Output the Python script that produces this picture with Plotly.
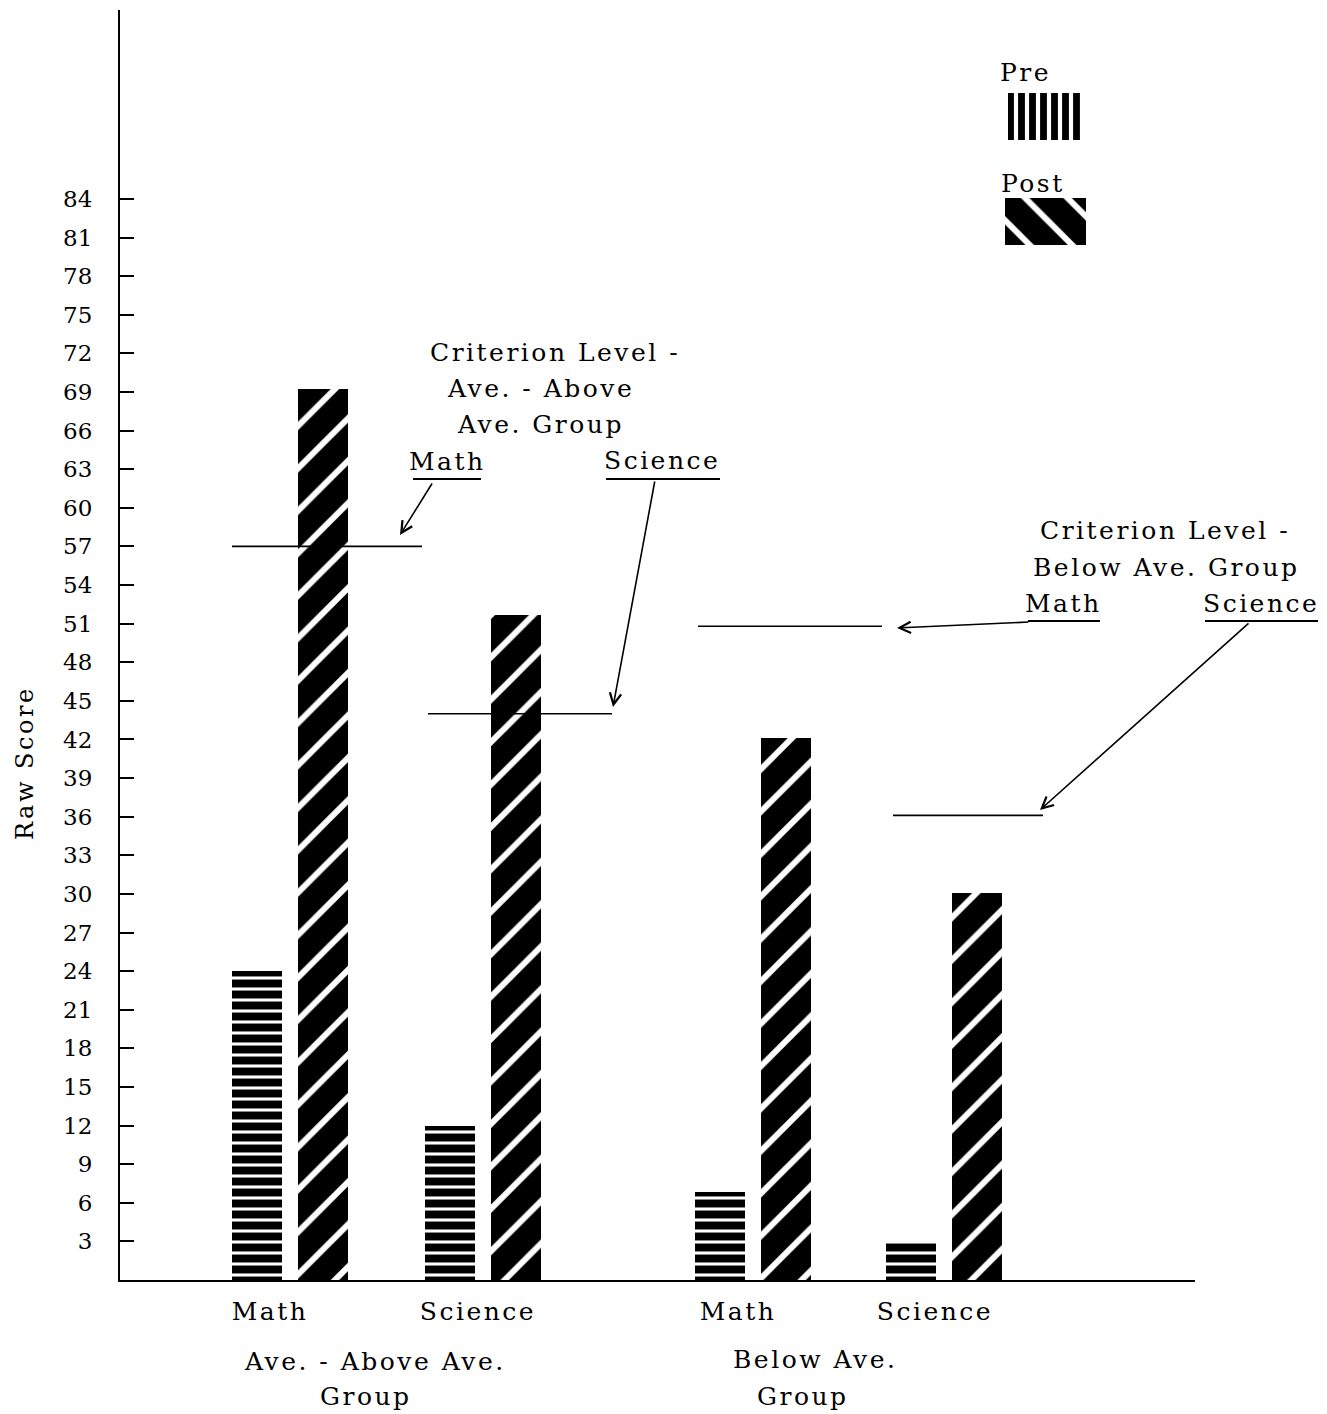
import plotly.graph_objects as go

# ---------------- data ----------------
subjects = ["Math", "Science", "Math", "Science"]
groups = ["Ave. - Above Ave.", "Below Ave."]
pre_scores = [24.0, 12.0, 6.8, 3.0]
post_scores = [69.2, 51.7, 42.1, 30.1]
criterion = [57.0, 44.0, 50.8, 36.1]
y_ticks = list(range(3, 85, 3))

# ---------------- layout helpers ----------------
W, H = 1327, 1414
BODY = 8                                   # browser default body margin
L, R, T, B = 120, 1195, 10, 1280          # plot area in reference pixels
YMAX = (B - T) / 12.87                     # axis top value


def px(x):  # reference pixel x -> paper
    return (x - L) / (R - L)


def py(y):  # reference pixel y -> paper
    return (B - y) / (B - T)


slot_centers = [170, 363, 633, 824]
pre_x = [c - 33 for c in slot_centers]
post_x = [c + 33 for c in slot_centers]
label_x = [150, 358, 618, 815]
BAR_W = 50

FONT = "DejaVu Serif"
FS = 25
LS = "letter-spacing:2.5px"


def spaced(s):
    return f"<span style='{LS}'>{s}</span>"


fig = go.Figure()

fig.add_trace(go.Bar(
    x=pre_x, y=pre_scores, width=BAR_W, name="Pre",
    marker=dict(color="black", line=dict(width=0),
                pattern=dict(shape="-", size=11, solidity=0.72,
                             fgcolor="black", bgcolor="white", fillmode="replace")),
    showlegend=False,
))
fig.add_trace(go.Bar(
    x=post_x, y=post_scores, width=BAR_W, name="Post",
    marker=dict(color="black", line=dict(width=0),
                pattern=dict(shape="/", size=30, solidity=0.2,
                             fgcolor="white", bgcolor="black", fillmode="replace")),
    showlegend=False,
))

# legend swatches on an overlay axis
fig.add_trace(go.Bar(
    x=[0.5], y=[0.31], base=[0.69], width=[0.93], xaxis="x2", yaxis="y2",
    marker=dict(color="black", line=dict(width=0),
                pattern=dict(shape="|", size=11, solidity=0.62,
                             fgcolor="black", bgcolor="white", fillmode="replace")),
    showlegend=False, hoverinfo="skip",
))
fig.add_trace(go.Bar(
    x=[0.5], y=[0.31], base=[0.0], width=[1.0], xaxis="x2", yaxis="y2",
    marker=dict(color="black", line=dict(width=0),
                pattern=dict(shape="\\", size=30, solidity=0.2,
                             fgcolor="white", bgcolor="black", fillmode="replace")),
    showlegend=False, hoverinfo="skip",
))

shapes = []
annotations = []

# criterion lines (pixel extents of each line)
crit_extent = [(232, 422), (428, 612), (698, 882), (893, 1043)]
for (x0, x1), c in zip(crit_extent, criterion):
    shapes.append(dict(type="line", xref="x", yref="y", x0=x0 - L, x1=x1 - L,
                       y0=c, y1=c, line=dict(color="black", width=1.6)))


def text(x, y, s, size=FS):
    annotations.append(dict(xref="paper", yref="paper", x=px(x), y=py(y), text=spaced(s),
                            showarrow=False, xanchor="center", yanchor="middle",
                            font=dict(family=FONT, size=size, color="black")))


def underline(x0, x1, y):
    shapes.append(dict(type="line", xref="paper", yref="paper", x0=px(x0), x1=px(x1),
                       y0=py(y), y1=py(y), line=dict(color="black", width=2)))


def arrow(hx, hy, tx, ty):
    annotations.append(dict(xref="paper", yref="paper", x=px(hx), y=py(hy), text="",
                            showarrow=True, ax=tx - hx, ay=ty - hy, arrowhead=5,
                            arrowsize=1.4, arrowwidth=1.6, arrowcolor="black",
                            standoff=0, startstandoff=0))


# upper-left criterion caption
text(555, 352, "Criterion Level -")
text(540, 388, "Ave. - Above")
text(540, 425, "Ave. Group")
text(447, 462, "Math")
text(662, 461, "Science")
underline(413, 481, 479)
underline(606, 720, 479)
arrow(400, 535, 433, 482)
arrow(613, 707, 655, 480)

# right criterion caption
text(1165, 530, "Criterion Level -")
text(1166, 567, "Below Ave. Group")
text(1063, 603, "Math")
text(1261, 603, "Science")
underline(1028, 1100, 621)
underline(1205, 1318, 621)
arrow(897, 628, 1030, 622)
arrow(1040, 810, 1250, 622)

# legend labels
text(1025, 73, "Pre")
text(1033, 184, "Post")

# group labels
text(375, 1361, groups[0])
text(366, 1396, "Group")
text(815, 1360, groups[1])
text(803, 1396, "Group")

# y title
annotations.append(dict(xref="paper", yref="paper", x=px(25), y=py(763), text=spaced("Raw Score"),
                        showarrow=False, textangle=-90, xanchor="center", yanchor="middle",
                        font=dict(family=FONT, size=24, color="black")))

fig.update_layout(
    width=W - BODY, height=H - BODY,
    margin=dict(l=L - BODY, r=W - R, t=T - BODY, b=H - B, pad=0),
    paper_bgcolor="white", plot_bgcolor="white",
    barmode="overlay", bargap=0,
    xaxis=dict(range=[0, R - L], showgrid=False, zeroline=False, showline=True,
               linecolor="black", linewidth=2, ticks="",
               tickmode="array", tickvals=label_x, ticktext=[spaced(s) for s in subjects],
               tickfont=dict(family=FONT, size=FS, color="black"),
               ticklabelstandoff=8, fixedrange=True),
    yaxis=dict(range=[0, YMAX], showgrid=False, zeroline=False, showline=True,
               linecolor="black", linewidth=2, ticks="inside", ticklen=14,
               tickwidth=2, tickcolor="black", tickmode="array", tickvals=y_ticks,
               ticktext=[str(v) for v in y_ticks],
               tickfont=dict(family=FONT, size=23, color="black"),
               ticklabelstandoff=21, fixedrange=True),
    xaxis2=dict(domain=[px(1005), px(1086)], range=[0, 1], visible=False,
                anchor="y2", fixedrange=True),
    yaxis2=dict(domain=[py(245), py(93)], range=[0, 1], visible=False,
                anchor="x2", fixedrange=True),
    shapes=shapes, annotations=annotations,
    showlegend=False,
)

fig.write_html("out.html")
